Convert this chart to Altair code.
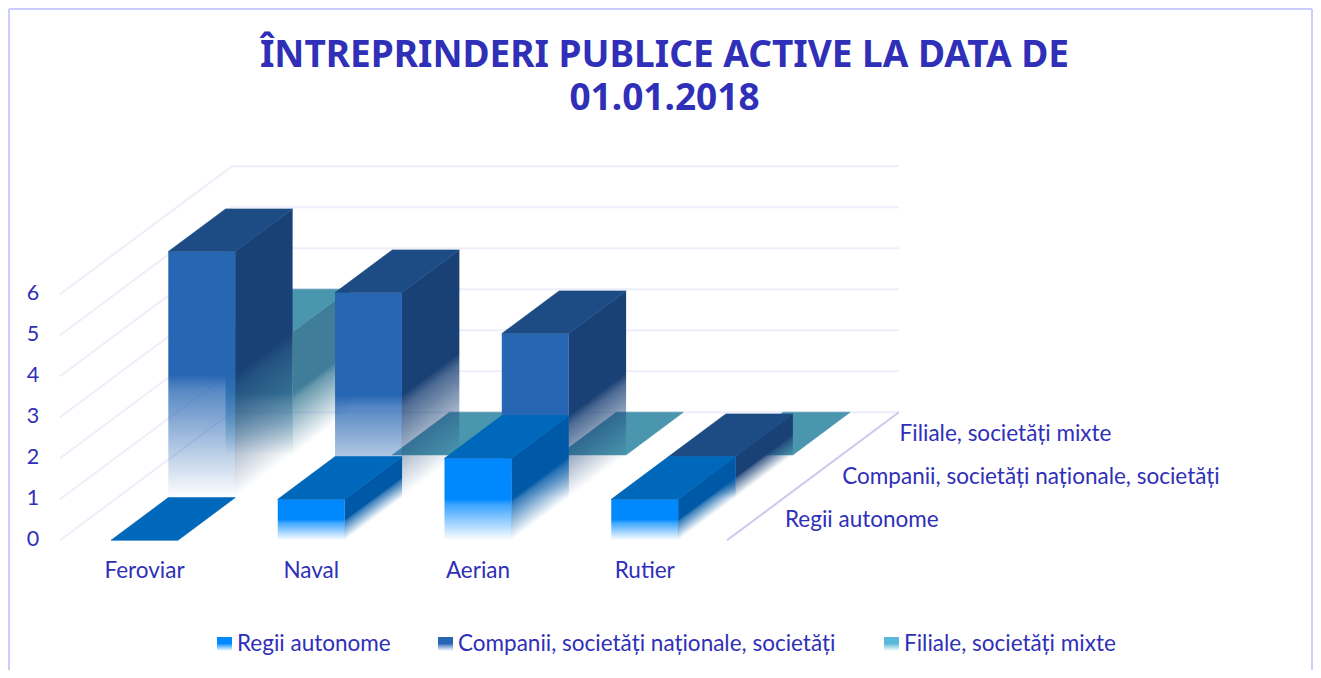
import altair as alt
import pandas as pd

# ---- chart data ----
categories = ["Feroviar", "Naval", "Aerian", "Rutier"]
series_names = ["Regii autonome", "Companii, societăți naționale, societăți", "Filiale, societăți mixte"]
regii = [0, 1, 2, 1]
companii = [6, 5, 4, 1]
filiale = [3, 0, 0, 0]
value_ticks = [0, 1, 2, 3, 4, 5, 6]
title_lines = ["ÎNTREPRINDERI PUBLICE ACTIVE LA DATA DE", "01.01.2018"]

# ---- styles: (front, side, top) ----
palette = [
    ("#0089ff", "#0059a6", "#0068bb"),
    ("#2766b3", "#1a4175", "#1d4c84"),
    ("#4a96ae", "#3f7d98", "#4a96ae"),
]
legend_colors = ["#0089ff", "#2766b3", "#5ab8d8"]
TXT = "#2f2fb8"
FONT = "Lato"

# ---- oblique projection (page pixels) ----
OX, OY = 60, 540.3        # front-left floor corner
CAT_W = 166.75            # category pitch
GAP = 51                  # gap before bar
BAR_W = 67
DX, DY = 57.3, 42.7       # one depth step
UNIT = 41                 # one value unit
W, H = 1305, 662
PX0, PY0 = 8, 8

X = lambda f="x": alt.X(f"{f}:Q", axis=None, scale=alt.Scale(domain=[PX0, PX0 + W], nice=False, zero=False))
Y = lambda f="y": alt.Y(f"{f}:Q", axis=None, scale=alt.Scale(domain=[PY0 + H, PY0], nice=False, zero=False))


def px(c, d):
    return OX + CAT_W * c + GAP + DX * d


def py(v, d):
    return OY - UNIT * v - DY * d


def grad(color, x1=0.0, y1=0.0, x2=0.0, y2=1.0):
    r, g, b = color[1:3], color[3:5], color[5:7]
    stops = [(0, "ff"), (0.5, "ff"), (0.56, "c8"), (1, "00")]
    return alt.Gradient(
        gradient="linear", x1=x1, y1=y1, x2=x2, y2=y2,
        stops=[alt.GradientStop(color=f"#{r}{g}{b}{a}", offset=o) for o, a in stops],
    )


def side_grad(color, v):
    h = UNIT * v
    k = DY / (h + DY)
    n = (1 - k) / (1 + k * k)
    return grad(color, 0.0, k, k * n, k + n)


def area_v(rows, fill):
    return alt.Chart(pd.DataFrame(rows)).mark_area(fill=fill, opacity=1, orient="vertical").encode(
        x=X(), y=Y(), y2=alt.Y2("y2:Q"))


def area_h(rows, fill):
    return alt.Chart(pd.DataFrame(rows)).mark_area(
        fill=fill, stroke=fill, strokeWidth=0.6, opacity=1, orient="horizontal"
    ).encode(y=Y(), x=X(), x2=alt.X2("x2:Q"))


layers = []

# frame
frame = pd.DataFrame([
    {"x": 9, "x2": 9, "y": 9, "y2": 670},
    {"x": 1312, "x2": 1312, "y": 9, "y2": 670},
    {"x": 9, "x2": 1312, "y": 9, "y2": 9},
])
layers.append(alt.Chart(frame).mark_rule(color="#ccccff", strokeWidth=2).encode(
    x=X(), x2=alt.X2("x2:Q"), y=Y(), y2=alt.Y2("y2:Q")))

# wall and floor grid
grid_rows = []
for v in value_ticks:
    grid_rows.append({"x": OX, "y": py(v, 0), "x2": OX + 3 * DX, "y2": py(v, 3)})
    grid_rows.append({"x": OX + 3 * DX, "y": py(v, 3), "x2": OX + 3 * DX + 4 * CAT_W, "y2": py(v, 3)})
layers.append(alt.Chart(pd.DataFrame(grid_rows)).mark_rule(color="#eeeefb", strokeWidth=2).encode(
    x=X(), x2=alt.X2("x2:Q"), y=Y(), y2=alt.Y2("y2:Q")))
floor_edge = pd.DataFrame([{"x": OX + 4 * CAT_W, "y": py(0, 0), "x2": OX + 4 * CAT_W + 3 * DX, "y2": py(0, 3)}])
layers.append(alt.Chart(floor_edge).mark_rule(color="#c9c9ee", strokeWidth=2).encode(
    x=X(), x2=alt.X2("x2:Q"), y=Y(), y2=alt.Y2("y2:Q")))

# bars, painted back to front
for d, vals in reversed(list(enumerate([regii, companii, filiale]))):
    front, side, top = palette[d]
    for c, v in enumerate(vals):
        xl, xr = px(c, d), px(c, d) + BAR_W
        yt, yb = py(v, d), py(0, d)
        if v > 0:
            layers.append(area_v([{"x": xr - 0.2, "y": yt, "y2": yb},
                                  {"x": xr + DX, "y": yt - DY, "y2": yb - DY}], side_grad(side, v)))
            layers.append(area_v([{"x": xl, "y": yt, "y2": yb}, {"x": xr, "y": yt, "y2": yb}], grad(front)))
        layers.append(area_h([{"y": yt, "x": xl, "x2": xr},
                              {"y": yt - DY, "x": xl + DX, "x2": xr + DX}], top))


def text_layer(rows, align, size):
    return alt.Chart(pd.DataFrame(rows)).mark_text(
        align=align, baseline="middle", font=FONT, fontSize=size, color=TXT
    ).encode(x=X(), y=Y(), text="t:N")


# value labels
layers.append(text_layer([{"x": 33, "y": py(v, 0), "t": str(v)} for v in value_ticks], "center", 21.5))
# category labels
layers.append(text_layer([{"x": px(c, 0) + BAR_W / 2, "y": 570.5, "t": n} for c, n in enumerate(categories)], "center", 22.5))
# depth labels
layers.append(text_layer([{"x": OX + 4 * CAT_W + 58 + DX * d, "y": 519.5 - 43 * d, "t": n}
                          for d, n in enumerate(series_names)], "left", 22.5))

# legend
swatch_x = [217, 438, 884]
for i, n in enumerate(series_names):
    layers.append(alt.Chart(pd.DataFrame([{"x": swatch_x[i], "x2": swatch_x[i] + 15, "y": 637, "y2": 651}]))
                  .mark_rect(fill=grad(legend_colors[i]), opacity=1)
                  .encode(x=X(), x2=alt.X2("x2:Q"), y=Y(), y2=alt.Y2("y2:Q")))
layers.append(text_layer([{"x": swatch_x[i] + 20, "y": 643.5, "t": n} for i, n in enumerate(series_names)], "left", 22.5))

chart = alt.layer(*layers).properties(
    width=W, height=H, padding=0,
    autosize=alt.AutoSizeParams(type="none"),
    title=alt.TitleParams(text=title_lines, font="Noto Sans", fontWeight="bold", fontSize=37, color=TXT,
                          anchor="middle", baseline="top", lineHeight=43, dy=110, dx=4, offset=0),
).configure_view(stroke=None)

chart.save("out.html", embed_options={"renderer": "svg", "actions": False})
